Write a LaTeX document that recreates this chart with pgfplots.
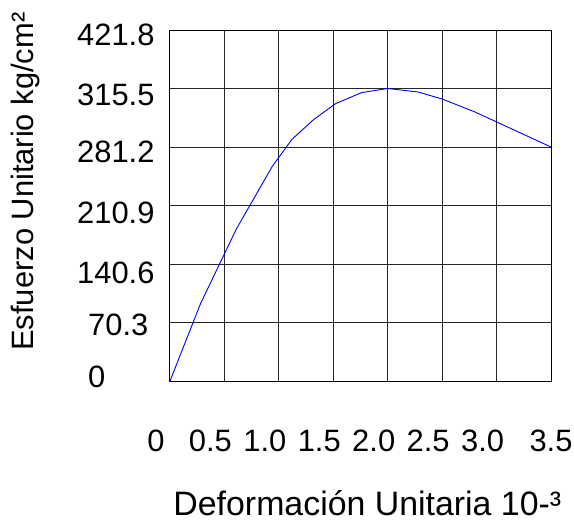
\documentclass[border=0pt]{standalone}
\usepackage{fontspec}
\setmainfont{Liberation Sans}
\usepackage{pgfplots}
\pgfplotsset{compat=1.18}
\begin{document}
\begin{tikzpicture}
\useasboundingbox (-170bp,-142bp) rectangle (404bp,381bp);
\begin{axis}[
  at={(0,0)}, anchor=south west,
  scale only axis, width=381bp, height=351bp,
  xmin=0, xmax=3.5, ymin=0, ymax=6,
  xtick={0,0.5,1,1.5,2,2.5,3,3.5},
  xticklabels={0,0.5,1.0,1.5,2.0,2.5,3.0,\makebox[0pt]{\hspace*{28bp}3.5}},
  ytick={0,1,2,3,4,5,6},
  yticklabels={\hspace*{11bp}\raisebox{9bp}{0},\hspace*{11bp}\raisebox{2.5bp}{70.3},\raisebox{-4bp}{140.6},\raisebox{-2.5bp}{210.9},281.2,\raisebox{-1.5bp}{315.5},421.8},
  major tick length=0pt,
  grid=major,
  grid style={black!85, line width=1bp},
  axis line style={black, line width=1bp},
  /pgf/number format/assume math mode=true,
  tick label style={font=\fontsize{31}{36}\selectfont, inner sep=0pt},
  xticklabel style={anchor=base, yshift=-70bp, xshift=-14bp},
  yticklabel style={anchor=base west, xshift=-93bp, yshift=-15bp},
  every axis y label/.style={at={(axis description cs:-0.378,0.568)}, rotate=90, anchor=center, font=\fontsize{31}{36}\selectfont},
  every axis x label/.style={at={(axis description cs:0.518,-0.3846)}, anchor=base, font=\fontsize{34}{40}\selectfont, inner sep=0pt},
  ylabel={Esfuerzo Unitario kg/cm²},
  xlabel={Deformación Unitaria 10-³},
]
\addplot[blue, line width=0.9bp, mark=none] coordinates {
(0,0) (0.28,1.32) (0.61,2.6) (0.94,3.67) (1.12,4.13) (1.32,4.47) (1.52,4.74) (1.76,4.93) (2.0,5.0) (2.28,4.94) (2.5,4.82) (2.8,4.6) (3.5,4.0)
};
\end{axis}
\end{tikzpicture}
\end{document}
